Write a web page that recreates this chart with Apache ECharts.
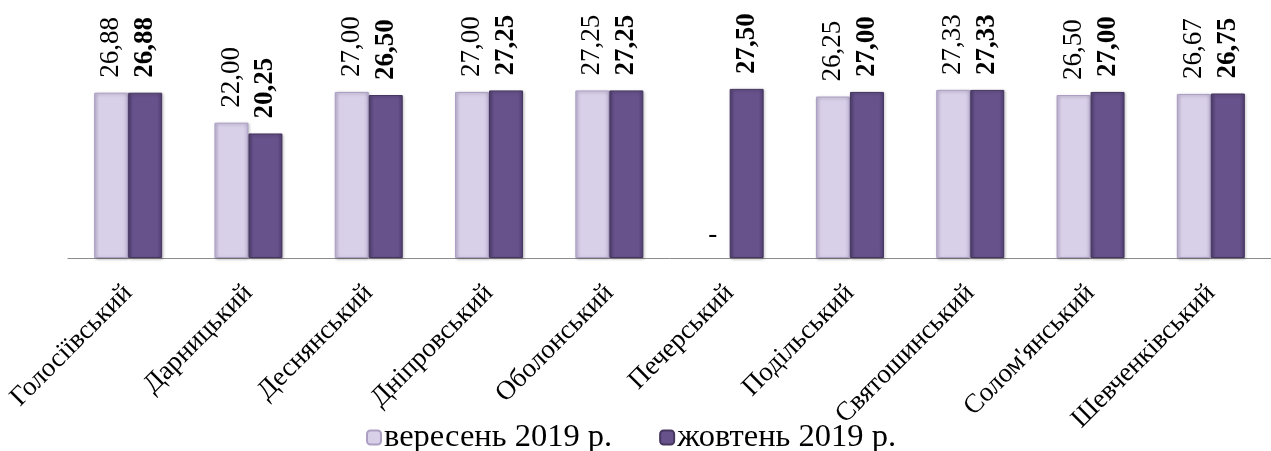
<!DOCTYPE html>
<html><head><meta charset="utf-8">
<script src="https://cdn.jsdelivr.net/npm/echarts@6/dist/echarts.min.js"></script>
<style>html,body{margin:0;padding:0;background:#fff}#c{width:1271px;height:451px}</style>
</head><body><div id="c"></div>
<script>
const categories = ['Голосіївський','Дарницький','Деснянський','Дніпровський','Оболонський','Печерський','Подільський','Святошинський','Солом\'янський','Шевченківський'];
const sep2019 = [26.88, 22.00, 27.00, 27.00, 27.25, null, 26.25, 27.33, 26.50, 26.67];
const oct2019 = [26.88, 20.25, 26.50, 27.25, 27.25, 27.50, 27.00, 27.33, 27.00, 26.75];
const seriesNames = ['вересень 2019 р.', 'жовтень 2019 р.'];

const font = '"Liberation Serif","Times New Roman",serif';
function grad(edge, mid){
  return {type:'linear',x:0,y:0,x2:1,y2:0,colorStops:[
    {offset:0,color:edge},{offset:0.15,color:mid},{offset:0.85,color:mid},{offset:1,color:edge}]};
}
const fmt = v => v.toFixed(2).replace('.', ',');
const chart = echarts.init(document.getElementById('c'));
const sepData = sep2019.map(v => v === null ? {value:0,
  itemStyle:{color:'rgba(0,0,0,0)', borderWidth:0, shadowBlur:0, shadowOffsetX:0, shadowOffsetY:0},
  label:{rotate:0, formatter:'-', align:'center', verticalAlign:'bottom', distance:10, fontWeight:'normal'}} : v);
chart.setOption({
  animation:false,
  grid:{left:68, width:1213, top:12, bottom:193, containLabel:false},
  legend:{left:361, top:416, itemWidth:14, itemHeight:14, itemGap:47,
    textStyle:{fontFamily:font, fontSize:32.5, color:'#000', padding:[0,0,0,-2]},
    data:seriesNames},
  xAxis:{type:'category', data:categories,
    axisLine:{lineStyle:{color:'#8c8c8c', width:1}},
    axisTick:{length:8, lineStyle:{color:'#8c8c8c'}},
    axisLabel:{rotate:45, interval:0, fontFamily:font, fontSize:27, color:'#000', margin:31}},
  yAxis:{type:'value', min:0, max:40, show:false, splitLine:{show:false}},
  series:[
    {name:seriesNames[0], type:'bar', data:sepData, barWidth:34, barGap:'0%',
     itemStyle:{color:grad('#c3b8d8','#d8cfe8'), borderColor:'#ab9fc4', borderWidth:1,
       shadowColor:'rgba(0,0,0,0.25)', shadowBlur:3, shadowOffsetX:1, shadowOffsetY:1},
     label:{show:true, position:'top', rotate:90, align:'left', verticalAlign:'middle', distance:15,
       fontFamily:font, fontSize:27, color:'#000', formatter:p => fmt(p.value)}},
    {name:seriesNames[1], type:'bar', data:oct2019, barWidth:34, barGap:'0%',
     itemStyle:{color:grad('#513f72','#67528b'), borderColor:'#45365f', borderWidth:1,
       shadowColor:'rgba(0,0,0,0.25)', shadowBlur:3, shadowOffsetX:1, shadowOffsetY:1},
     label:{show:true, position:'top', rotate:90, align:'left', verticalAlign:'middle', distance:15,
       fontFamily:font, fontSize:27, fontWeight:'bold', color:'#000', formatter:p => fmt(p.value)}}
  ]
});
</script></body></html>
